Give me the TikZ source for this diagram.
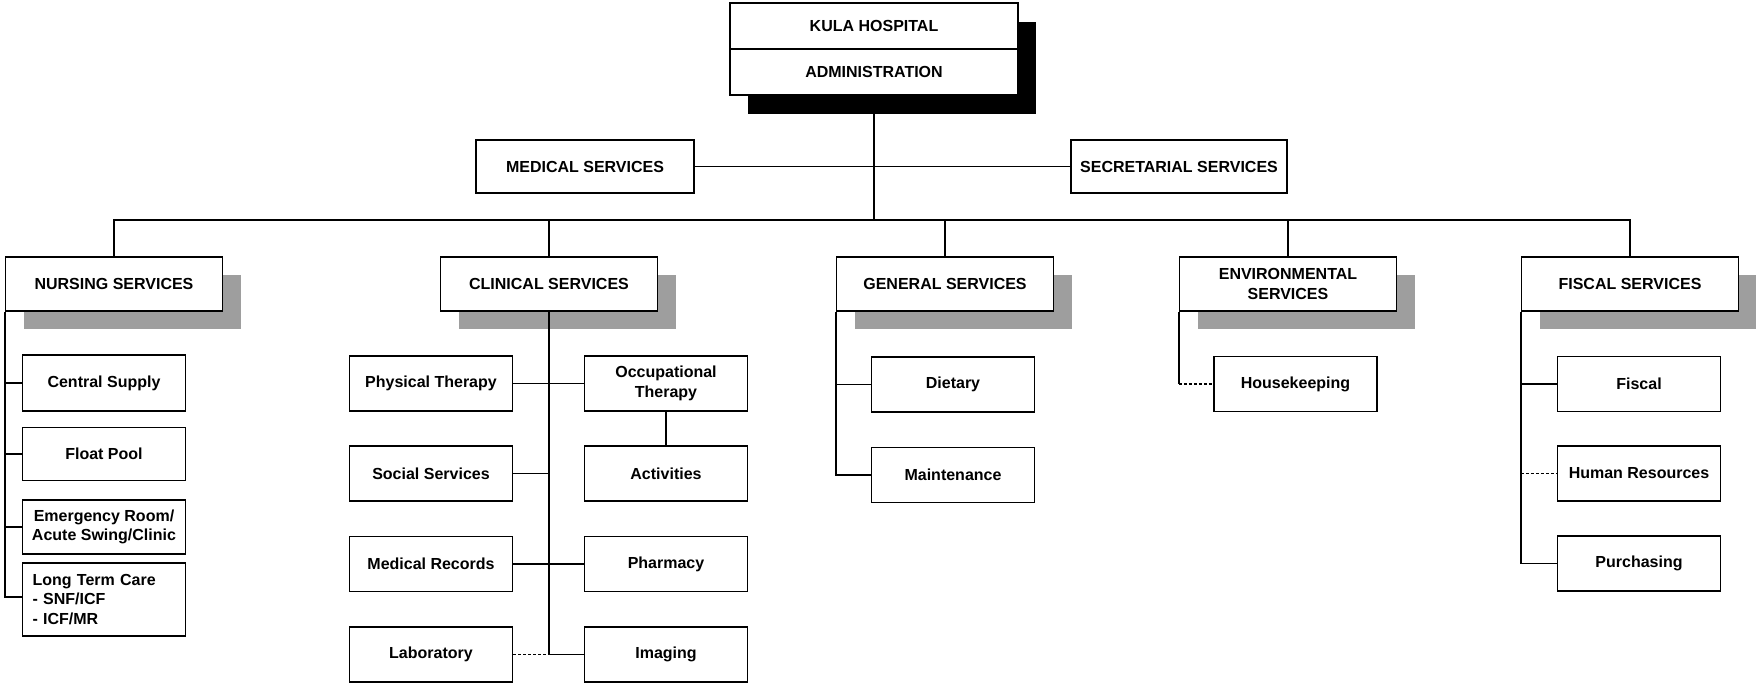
\documentclass[tikz,border=0pt]{standalone}
\usepackage{fontspec}
\setmainfont{Liberation Sans}
\usetikzlibrary{shadows}
\begin{document}
\begin{tikzpicture}[x=1pt,y=-1pt,
  every node/.style={font=\fontsize{16}{19.5}\selectfont\bfseries},
  box/.style={draw, line width=1.1pt, fill=white, rectangle, inner sep=0pt, align=center},
  topshadow/.style={drop shadow={shadow xshift=18pt, shadow yshift=-19pt, opacity=1, fill=black}},
  dept/.style={box, minimum width=217pt, minimum height=54pt,
    drop shadow={shadow xshift=18pt, shadow yshift=-18pt, opacity=1, fill=black!38}},
  unit/.style={box, minimum width=163pt, minimum height=55pt},
  conn/.style={line width=1.1pt},
  dconn/.style={line width=1.1pt, dash pattern=on 3pt off 2pt}
]
\useasboundingbox (0,0) rectangle (1756,684);

% top
\node[box, minimum width=288pt, minimum height=46pt, topshadow] (kula) at (874,26) {KULA HOSPITAL};
\node[box, minimum width=288pt, minimum height=46pt, topshadow] (admin) at (874,72) {ADMINISTRATION};

\node[box, minimum width=218pt, minimum height=53pt] (medical) at (585,166.5) {MEDICAL SERVICES};
\node[box, minimum width=216pt, minimum height=53pt] (secretarial) at (1179,166.5) {SECRETARIAL SERVICES};

% departments
\node[dept] (nursing) at (114,284) {NURSING SERVICES};
\node[dept] (clinical) at (549,284) {CLINICAL SERVICES};
\node[dept] (general) at (945,284) {GENERAL SERVICES};
\node[dept] (env) at (1288,284) {ENVIRONMENTAL\\SERVICES};
\node[dept] (fiscal) at (1630,284) {FISCAL SERVICES};

% nursing units
\node[unit, minimum height=56pt] (central) at (104,383) {Central Supply};
\node[unit, minimum height=53pt] (float) at (104,454) {Float Pool};
\node[unit, minimum height=54pt] (emerg) at (104,527) {Emergency Room/\\Acute Swing/Clinic};
\node[unit, minimum height=73pt, text width=143pt, align=left] (ltc) at (104,599.5) {Long Term Care\\- SNF/ICF\\- ICF/MR};

% clinical units
\node[unit] (pt) at (431,383.5) {Physical Therapy};
\node[unit] (ot) at (666,383.5) {Occupational\\Therapy};
\node[unit] (social) at (431,473.5) {Social Services};
\node[unit] (act) at (666,473.5) {Activities};
\node[unit] (medrec) at (431,564) {Medical Records};
\node[unit] (pharm) at (666,564) {Pharmacy};
\node[unit] (lab) at (431,654.5) {Laboratory};
\node[unit] (imaging) at (666,654.5) {Imaging};

% general units
\node[unit] (dietary) at (953,384.5) {Dietary};
\node[unit] (maint) at (953,475) {Maintenance};

% environmental
\node[unit] (house) at (1295.5,384) {Housekeeping};

% fiscal units
\node[unit] (fisc) at (1639,384) {Fiscal};
\node[unit] (hr) at (1639,473.5) {Human Resources};
\node[unit] (purch) at (1639,563.5) {Purchasing};

% connectors top
\coordinate (bus) at (874,220);
\draw[conn] (admin.south) -- (bus);
\draw[conn] (medical.east) -- (secretarial.west);
\draw[conn] (nursing.north) |- (bus) -| (fiscal.north);
\draw[conn] (clinical.north) -- (clinical.north |- bus);
\draw[conn] (general.north) -- (general.north |- bus);
\draw[conn] (env.north) -- (env.north |- bus);

% nursing
\draw[conn] (nursing.south west) |- ([yshift=2.5pt]ltc.west);
\draw[conn] (nursing.south west |- central.west) -- (central.west);
\draw[conn] (nursing.south west |- float.west) -- (float.west);
\draw[conn] (nursing.south west |- emerg.west) -- (emerg.west);

% clinical
\coordinate (ctr) at (clinical.south |- imaging.west);
\draw[conn] (clinical.south) -- (ctr) -- (imaging.west);
\draw[conn] (pt.east) -- (ot.west);
\draw[conn] (social.east) -- (social.east -| clinical.south);
\draw[conn] (medrec.east) -- (pharm.west);
\draw[conn] (ot.south) -- (act.north);
\draw[dconn] (lab.east) -- (ctr);

% general
\draw[conn] (general.south west) |- (maint.west);
\draw[conn] (general.south west |- dietary.west) -- (dietary.west);

% environmental
\coordinate (ecorner) at (env.south west |- house.west);
\draw[conn] (env.south west) -- (ecorner);
\draw[dconn] (ecorner) -- (house.west);

% fiscal
\draw[conn] (fiscal.south west) |- (purch.west);
\draw[conn] (fiscal.south west |- fisc.west) -- (fisc.west);
\draw[dconn] (fiscal.south west |- hr.west) -- (hr.west);
\end{tikzpicture}
\end{document}
